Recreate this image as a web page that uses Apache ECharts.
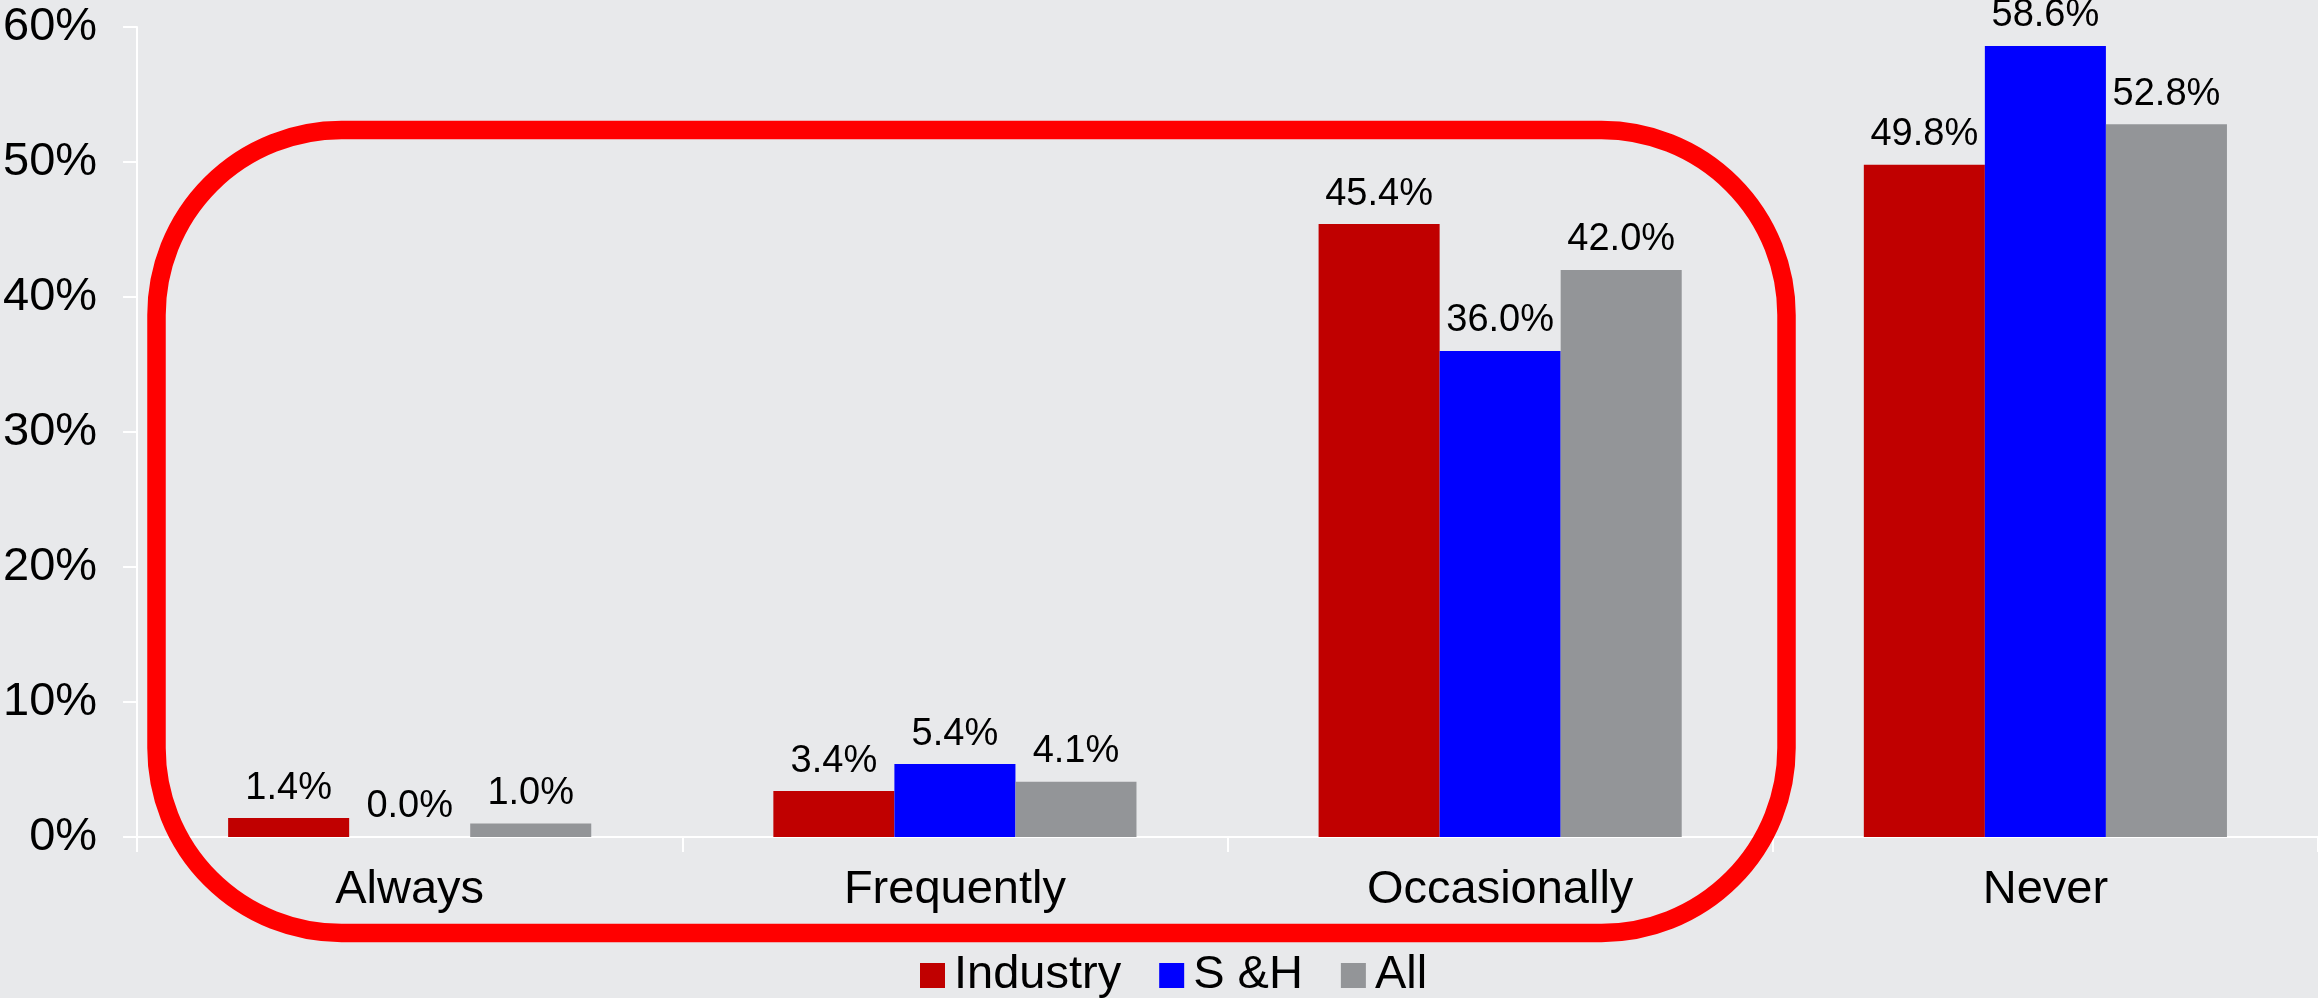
<!DOCTYPE html>
<html>
<head>
<meta charset="utf-8">
<script src="https://cdn.jsdelivr.net/npm/echarts@6/dist/echarts.min.js"></script>
<style>
html,body{margin:0;padding:0;background:#e8e9eb;}
#chart{width:2318px;height:998px;}
</style>
</head>
<body>
<div id="chart"></div>
<script>
var categories = ['Always', 'Frequently', 'Occasionally', 'Never'];
var seriesNames = ['Industry', 'S &H', 'All'];
var industry = [1.4, 3.4, 45.4, 49.8];
var sAndH = [0.0, 5.4, 36.0, 58.6];
var all = [1.0, 4.1, 42.0, 52.8];
var yTicks = [0, 10, 20, 30, 40, 50, 60];

var colors = ['#c00000', '#0000ff', '#939598'];
var font = '"Liberation Sans", Arial, Helvetica, sans-serif';

function mkSeries(name, data, color) {
  return {
    name: name,
    type: 'bar',
    data: data,
    barGap: '0%',
    barCategoryGap: '33.4%',
    itemStyle: { color: color },
    label: {
      show: true,
      position: 'top',
      distance: 11,
      color: '#000',
      fontFamily: font,
      fontSize: 38,
      formatter: function (p) { return p.value.toFixed(1) + '%'; }
    },
    emphasis: { disabled: true }
  };
}

var chart = echarts.init(document.getElementById('chart'), null, { renderer: 'canvas' });
chart.setOption({
  backgroundColor: '#e8e9eb',
  animation: false,
  textStyle: { fontFamily: font },
  grid: { left: 137, right: 0, top: 27, bottom: 161, containLabel: false },
  legend: {
    data: seriesNames,
    left: 915,
    top: 947,
    icon: 'rect',
    itemWidth: 25,
    itemHeight: 25,
    itemGap: 38,
    textStyle: { color: '#000', fontSize: 47, fontFamily: font, padding: [0, 0, 0, 4] }
  },
  xAxis: {
    type: 'category',
    data: categories,
    axisLine: { lineStyle: { color: '#ffffff', width: 2 } },
    axisTick: { show: true, length: 15, lineStyle: { color: '#ffffff', width: 2 } },
    axisLabel: { color: '#000', fontSize: 47, fontFamily: font, margin: 30 },
    splitLine: { show: false }
  },
  yAxis: {
    type: 'value',
    min: yTicks[0],
    max: yTicks[yTicks.length - 1],
    interval: 10,
    axisLine: { show: true, lineStyle: { color: '#ffffff', width: 2 } },
    axisTick: { show: true, length: 14, lineStyle: { color: '#ffffff', width: 2 } },
    axisLabel: { color: '#000', fontSize: 47, fontFamily: font, margin: 40, formatter: '{value}%' },
    splitLine: { show: false }
  },
  series: [
    mkSeries(seriesNames[0], industry, colors[0]),
    mkSeries(seriesNames[1], sAndH, colors[1]),
    mkSeries(seriesNames[2], all, colors[2])
  ],
  graphic: [{
    type: 'rect',
    z: 100,
    silent: true,
    shape: { x: 156.5, y: 130, width: 1630, height: 803, r: 185 },
    style: { fill: 'none', stroke: '#ff0000', lineWidth: 18.5 }
  }]
});
</script>
</body>
</html>
